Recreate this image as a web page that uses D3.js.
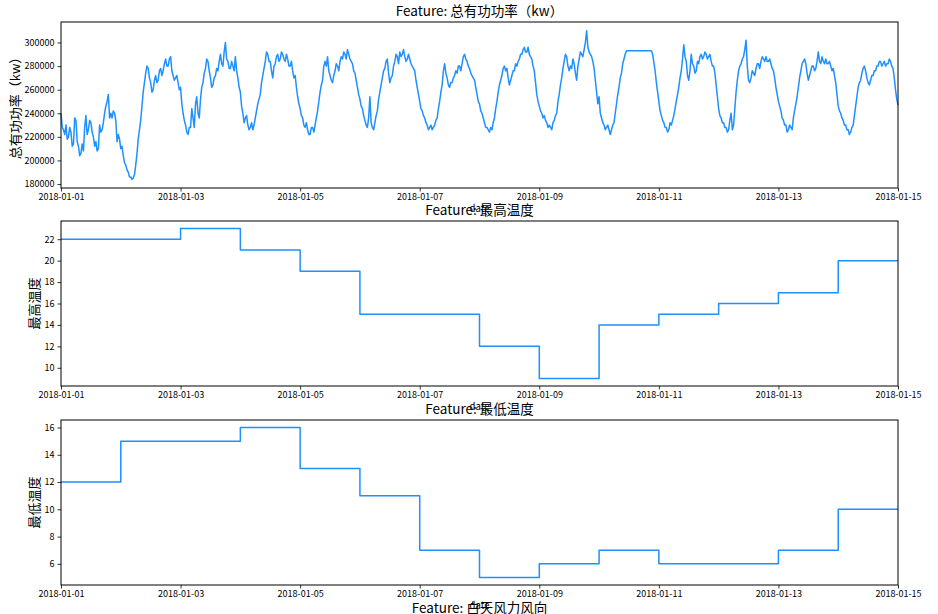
<!DOCTYPE html>
<html>
<head>
<meta charset="utf-8">
<script src="https://cdn.jsdelivr.net/npm/d3@7"></script>
<style>
  html, body { margin: 0; padding: 0; background: #fff; }
  text { font-family: "Noto Sans CJK SC", "DejaVu Sans", sans-serif; fill: #000; }
</style>
</head>
<body>
<svg id="chart" width="938" height="614"></svg>
<script>
// ---- Data ----
// 总有功功率 (kW, in thousands). pMMDD = reading on the hour, mMMDD = reading at half past.
const p0101 = [240,226,230,220,224,214,234,212,206,208,238,226,232,220,216,210,224,232,246,256,240,242,234,222];
const m0101 = [228,222,218,228,212,236,216,204,214,228,222,234,224,212,208,230,226,240,250,236,236,240,216,218];
const p0102 = [210,204,196,190,186,185,196,218,234,258,274,278,266,260,272,268,278,276,286,280,288,272,270,266];
const m0102 = [212,198,192,186,184,188,206,226,246,266,280,270,258,268,266,276,272,282,280,286,276,268,272,260];
const p0103 = [262,240,230,222,228,236,248,240,252,266,278,284,270,264,272,276,290,280,300,284,278,280,288,270];
const m0103 = [248,234,224,228,244,228,254,236,262,274,286,276,262,270,278,284,282,292,286,278,284,276,276,262];
const p0104 = [258,240,236,230,228,226,236,248,256,272,284,290,284,270,282,290,286,290,284,286,280,276,272,254];
const m0104 = [246,232,238,226,232,230,242,252,266,278,292,284,276,280,288,284,292,286,290,280,284,270,262,248];
const p0105 = [244,236,228,226,222,228,230,242,258,268,284,288,272,266,276,280,284,286,290,294,286,282,274,262];
const m0105 = [238,230,232,222,228,224,236,250,264,280,280,276,268,272,282,276,288,292,286,290,284,276,268,256];
const p0106 = [252,244,234,228,254,228,232,242,258,270,278,286,266,272,284,288,292,290,288,286,286,280,276,262];
const m0106 = [246,238,230,236,232,226,238,252,264,276,284,274,270,280,290,282,288,294,284,290,282,278,268,256];
const p0107 = [250,242,236,230,228,226,230,236,250,264,282,270,262,266,272,274,280,282,290,284,278,272,268,256];
const m0107 = [244,238,232,226,230,228,234,244,258,276,274,264,266,270,276,280,276,288,286,280,274,270,262,250];
const p0108 = [248,240,232,228,224,226,236,250,264,272,280,278,264,272,276,280,286,290,296,292,290,286,276,256];
const m0108 = [242,236,228,226,228,232,244,258,268,278,276,270,268,276,282,284,290,294,292,296,288,280,266,250];
const p0109 = [246,240,238,232,230,226,234,240,256,270,284,288,276,278,282,268,286,290,294,310,292,288,278,258];
const m0109 = [242,236,234,228,228,232,238,250,264,278,290,280,280,286,274,280,292,288,300,296,290,284,268,248];
const p0110 = [254,236,230,228,226,226,232,248,262,274,286,293,293,293,293,293,293,293,293,293,293,293,283,266];
const m0110 = [240,232,226,230,222,230,240,256,270,282,290,293,293,293,293,293,293,293,293,293,293,290,276,258];
const p0111 = [250,238,232,228,226,230,238,250,262,276,298,284,268,290,280,276,282,290,288,290,288,284,280,264];
const m0111 = [242,234,228,224,232,234,244,256,270,286,288,272,276,282,274,284,288,286,292,286,290,280,274,254];
const p0112 = [244,236,232,228,226,240,230,258,276,282,288,302,268,270,274,278,282,284,286,288,284,282,276,262];
const m0112 = [238,232,228,224,234,226,244,268,280,286,294,280,266,276,272,282,278,288,284,284,286,278,270,256];
const p0113 = [250,242,234,230,226,228,236,248,262,276,284,282,268,276,280,278,292,282,284,286,282,280,278,266];
const m0113 = [246,236,230,224,230,226,242,254,270,282,286,274,272,280,276,284,284,288,282,282,284,276,272,256];
const p0114 = [246,240,234,230,226,224,230,246,262,268,278,276,266,268,272,276,280,284,282,280,282,284,278,260];
const m0114 = [242,236,230,226,222,228,238,254,266,274,280,270,264,272,276,280,284,280,284,282,286,280,270,252];
const powerEnd = 247; // reading at 2018-01-15 00:00

// 最高温度 / 最低温度, one value per day 2018-01-01 .. 2018-01-14
const maxTemp = [22,22,23,21,19,15,15,12,9,14,15,16,17,20];
const minTemp = [12,15,15,16,13,11,7,5,6,7,6,6,7,10];

// Tick values
const powerTicks = [180000,200000,220000,240000,260000,280000,300000];
const maxTicks = [10,12,14,16,18,20,22];
const minTicks = [6,8,10,12,14,16];
const dateTickLabels = ["2018-01-01","2018-01-03","2018-01-05","2018-01-07","2018-01-09","2018-01-11","2018-01-13","2018-01-15"];

// ---- Build series ----
const parse = d3.timeParse("%Y-%m-%d");
const start = parse("2018-01-01");
const end = parse("2018-01-15");

const powerDays = [
  [p0101,m0101],[p0102,m0102],[p0103,m0103],[p0104,m0104],[p0105,m0105],[p0106,m0106],[p0107,m0107],
  [p0108,m0108],[p0109,m0109],[p0110,m0110],[p0111,m0111],[p0112,m0112],[p0113,m0113],[p0114,m0114]
];
const powerSeries = [];
powerDays.forEach(([onHour, halfPast], di) => {
  onHour.forEach((v, h) => {
    powerSeries.push({ t: d3.timeMinute.offset(start, (di * 24 + h) * 60), v: v * 1000 });
    powerSeries.push({ t: d3.timeMinute.offset(start, (di * 24 + h) * 60 + 30), v: halfPast[h] * 1000 });
  });
});
powerSeries.push({ t: end, v: powerEnd * 1000 });

function dailySeries(arr) {
  const s = arr.map((v, i) => ({ t: d3.timeDay.offset(start, i), v }));
  s.push({ t: end, v: arr[arr.length - 1] });
  return s;
}

// ---- Drawing ----
const svg = d3.select("#chart");
svg.append("rect").attr("width", 938).attr("height", 614).attr("fill", "#fff");

const LEFT = 61, RIGHT = 898;
const x = d3.scaleTime().domain([start, end]).range([LEFT, RIGHT]);
const xTickDates = dateTickLabels.map(parse);
const LINE = "#1E90FF";

function panel(opts) {
  const { top, bottom, domain, ticks, data, curve, title, ylabel, ylabelX } = opts;
  const y = d3.scaleLinear().domain(domain).range([bottom, top]);
  const g = svg.append("g");

  g.append("path")
    .datum(data)
    .attr("fill", "none")
    .attr("stroke", LINE)
    .attr("stroke-width", 1.5)
    .attr("stroke-linejoin", "round")
    .attr("d", d3.line().x(d => x(d.t)).y(d => y(d.v)).curve(curve));

  const xAxis = d3.axisBottom(x).tickValues(xTickDates).tickFormat(d3.timeFormat("%Y-%m-%d")).tickSize(3.5).tickPadding(2);
  const yAxis = d3.axisLeft(y).tickValues(ticks).tickFormat(d3.format("d")).tickSize(3.5).tickPadding(3);

  const gx = g.append("g").attr("transform", `translate(0,${bottom})`).call(xAxis);
  const gy = g.append("g").attr("transform", `translate(${LEFT},0)`).call(yAxis);
  [gx, gy].forEach(a => {
    a.select(".domain").remove();
    a.selectAll(".tick line").attr("stroke", "#000").attr("stroke-width", 0.8);
    a.selectAll(".tick text").attr("font-size", "9px").attr("fill", "#000")
      .style("font-family", '"Noto Sans CJK SC", sans-serif');
  });

  g.append("rect")
    .attr("x", LEFT).attr("y", top)
    .attr("width", RIGHT - LEFT).attr("height", bottom - top)
    .attr("fill", "none").attr("stroke", "#000").attr("stroke-width", 1);

  svg.append("text")
    .attr("x", (LEFT + RIGHT) / 2).attr("y", top - 6)
    .attr("text-anchor", "middle").attr("font-size", "13.5px")
    .text(title);

  svg.append("text")
    .attr("transform", `translate(${ylabelX},${(top + bottom) / 2}) rotate(-90)`)
    .attr("text-anchor", "middle").attr("dominant-baseline", "central")
    .attr("font-size", "13px")
    .text(ylabel);

  svg.append("text")
    .attr("x", (LEFT + RIGHT) / 2).attr("y", bottom + 24)
    .attr("text-anchor", "middle").attr("font-size", "9.5px")
    .text("date");
}

panel({
  top: 22, bottom: 188, domain: [176600, 317400], ticks: powerTicks,
  data: powerSeries, curve: d3.curveLinear,
  title: "Feature: 总有功功率（kw）", ylabel: "总有功功率（kw）", ylabelX: 14
});
panel({
  top: 221, bottom: 386, domain: [8.3, 23.7], ticks: maxTicks,
  data: dailySeries(maxTemp), curve: d3.curveStepAfter,
  title: "Feature: 最高温度", ylabel: "最高温度", ylabelX: 33
});
panel({
  top: 420, bottom: 585, domain: [4.45, 16.55], ticks: minTicks,
  data: dailySeries(minTemp), curve: d3.curveStepAfter,
  title: "Feature: 最低温度", ylabel: "最低温度", ylabelX: 33
});

// title of the next (off-screen) panel, partly cut off as in the reference
svg.append("text")
  .attr("x", (LEFT + RIGHT) / 2).attr("y", 613)
  .attr("text-anchor", "middle").attr("font-size", "13.5px")
  .text("Feature: 白天风力风向");
</script>
</body>
</html>
